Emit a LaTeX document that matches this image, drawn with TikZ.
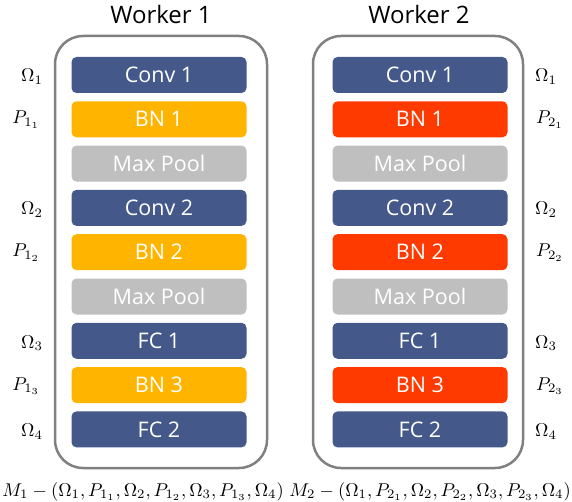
\documentclass[tikz,border=0pt]{standalone}
\usepackage{graphicx}
\usepackage{fontspec}
\newfontfamily\uifont{Open Sans}
\definecolor{convblue}{HTML}{44598A}
\definecolor{bnorange}{HTML}{FFB400}
\definecolor{bnred}{HTML}{FF3A00}
\definecolor{poolgray}{HTML}{BFBFBF}
\definecolor{boxgray}{HTML}{808080}
\newcommand{\mylblmath}[1]{\scalebox{1.85}{$#1$}}
\begin{document}
\begin{tikzpicture}[x=1pt,y=-1pt,
  container/.style={draw=boxgray, line width=2.5pt, rounded corners=28pt, inner sep=0pt},
  layer/.style={rectangle, rounded corners=5pt, minimum width=175pt, minimum height=36pt, inner sep=0pt, text=white, font=\uifont\fontsize{21.5}{24}\selectfont},
  conv/.style={layer, fill=convblue},
  bnA/.style={layer, fill=bnorange},
  bnB/.style={layer, fill=bnred},
  pool/.style={layer, fill=poolgray},
  title/.style={font=\uifont\fontsize{24}{28}\selectfont, text=black},
  lbl/.style={inner sep=0pt},
  formula/.style={inner sep=0pt}
]
\useasboundingbox (0,0) rectangle (572,502);

\node[title] (t1) at (161,15) {Worker 1};
\node[title] (t2) at (419,15) {Worker 2};

\node[container, minimum width=212pt, minimum height=432pt] (w1) at (161,252) {};
\node[container, minimum width=210pt, minimum height=432pt] (w2) at (418,252) {};

% worker 1
\node[conv] (a1) at (159,75) {Conv 1};
\node[bnA]  (a2) at (159,119.3) {BN 1};
\node[pool] (a3) at (159,163.6) {Max Pool};
\node[conv] (a4) at (159,207.9) {Conv 2};
\node[bnA]  (a5) at (159,252.2) {BN 2};
\node[pool] (a6) at (159,296.5) {Max Pool};
\node[conv] (a7) at (159,340.8) {FC 1};
\node[bnA]  (a8) at (159,385.1) {BN 3};
\node[conv] (a9) at (159,429.4) {FC 2};

% worker 2
\node[conv] (b1) at (420,75) {Conv 1};
\node[bnB]  (b2) at (420,119.3) {BN 1};
\node[pool] (b3) at (420,163.6) {Max Pool};
\node[conv] (b4) at (420,207.9) {Conv 2};
\node[bnB]  (b5) at (420,252.2) {BN 2};
\node[pool] (b6) at (420,296.5) {Max Pool};
\node[conv] (b7) at (420,340.8) {FC 1};
\node[bnB]  (b8) at (420,385.1) {BN 3};
\node[conv] (b9) at (420,429.4) {FC 2};

% left labels
\node[lbl, anchor=base east] (la1) at (43,82) {\mylblmath{\Omega_1}};
\node[lbl, anchor=base east] (la2) at (40,124) {\mylblmath{P_{1_1}}};
\node[lbl, anchor=base east] (la4) at (43,215) {\mylblmath{\Omega_2}};
\node[lbl, anchor=base east] (la5) at (40,257) {\mylblmath{P_{1_2}}};
\node[lbl, anchor=base east] (la7) at (43,348) {\mylblmath{\Omega_3}};
\node[lbl, anchor=base east] (la8) at (40,390) {\mylblmath{P_{1_3}}};
\node[lbl, anchor=base east] (la9) at (43,436.5) {\mylblmath{\Omega_4}};

% right labels
\node[lbl, anchor=base west] (lb1) at (535,82) {\mylblmath{\Omega_1}};
\node[lbl, anchor=base west] (lb2) at (536,124) {\mylblmath{P_{2_1}}};
\node[lbl, anchor=base west] (lb4) at (535,215) {\mylblmath{\Omega_2}};
\node[lbl, anchor=base west] (lb5) at (536,257) {\mylblmath{P_{2_2}}};
\node[lbl, anchor=base west] (lb7) at (535,348) {\mylblmath{\Omega_3}};
\node[lbl, anchor=base west] (lb8) at (536,390) {\mylblmath{P_{2_3}}};
\node[lbl, anchor=base west] (lb9) at (535,436.5) {\mylblmath{\Omega_4}};

% formulas
\node[formula, anchor=base] (f1) at (143,496) {\scalebox{1.85}{$M_1 - (\Omega_1, P_{1_1}, \Omega_2, P_{1_2}, \Omega_3, P_{1_3}, \Omega_4)$}};
\node[formula, anchor=base] (f2) at (430,496) {\scalebox{1.85}{$M_2 - (\Omega_1, P_{2_1}, \Omega_2, P_{2_2}, \Omega_3, P_{2_3}, \Omega_4)$}};
\end{tikzpicture}
\end{document}
